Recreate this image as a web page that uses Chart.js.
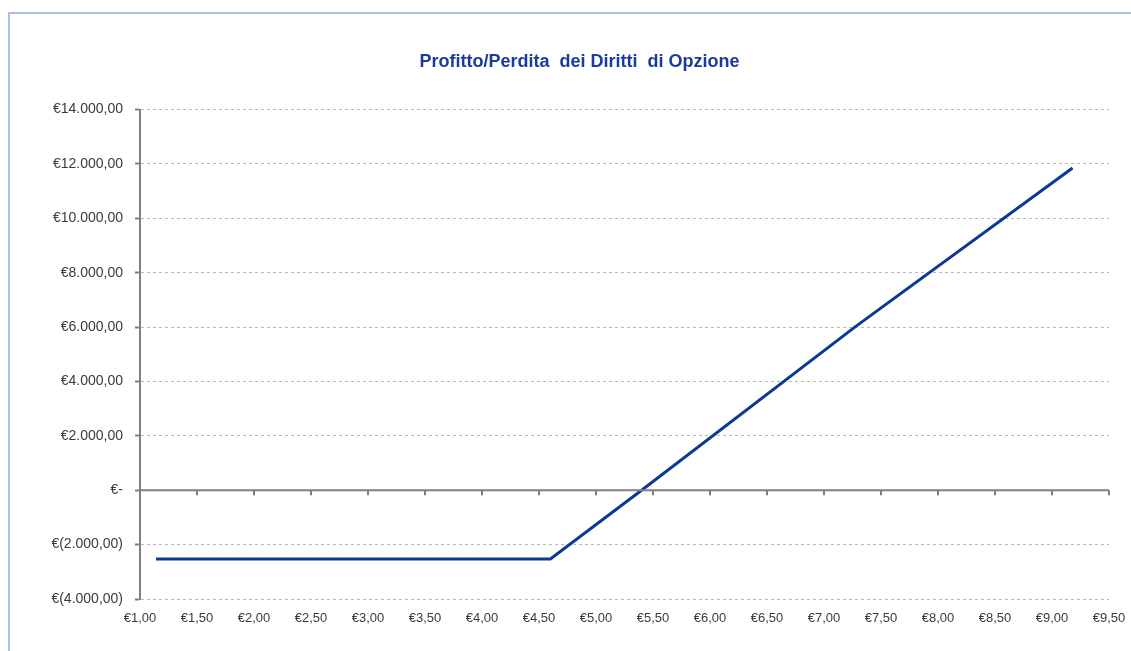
<!DOCTYPE html>
<html>
<head>
<meta charset="utf-8">
<script src="https://cdn.jsdelivr.net/npm/chart.js@4/dist/chart.umd.min.js"></script>
<style>
  html, body { margin:0; padding:0; background:#fff; }
  #wrap { position:relative; width:1131px; height:651px; overflow:hidden; }
  #frame { position:absolute; left:8px; top:12px; width:1200px; height:700px;
           border-left:2px solid #a9bde6; border-top:2px solid #a9bde6; }
  canvas { position:absolute; left:0; top:0; }
</style>
</head>
<body>
<div id="wrap">
  <div id="frame"></div>
  <canvas id="c" width="1131" height="651"></canvas>
</div>
<script>
// prezzo del diritto (x) e profitto/perdita (y)
const prices = [1.14, 4.60, 5.40, 7.27, 9.18];
const profit = [-2530, -2530, 0, 6000, 11850];

const TITLE = 'Profitto/Perdita  dei Diritti  di Opzione';
const X_MIN = 1, X_MAX = 9.5, X_STEP = 0.5;
const Y_MIN = -4000, Y_MAX = 14000, Y_STEP = 2000;

const LINE_COL = '#0b3a94';
const TEXT_COL = '#3a3a3a';
const AXIS_COL = '#808080';
const FONT = 'Liberation Sans, Arial, sans-serif';

function euroNum(v, dec){
  const parts = Math.abs(v).toFixed(dec).split('.');
  parts[0] = parts[0].replace(/\B(?=(\d{3})+(?!\d))/g, '.');
  return parts.join(',');
}
function yLabel(v){
  if (v === 0) return '€-';
  if (v < 0) return `€(${euroNum(v, 2)})`;
  return `€${euroNum(v, 2)}`;
}

// zero axis line + tick marks (Excel-style axis crossing at 0)
const zeroAxis = {
  id: 'zeroAxis',
  afterDatasetsDraw(chart){
    const { ctx, scales: { x, y } } = chart;
    const y0 = y.getPixelForValue(0);
    ctx.save();
    ctx.strokeStyle = AXIS_COL;
    ctx.lineWidth = 2;
    ctx.beginPath();
    ctx.moveTo(x.left, y0);
    ctx.lineTo(x.right, y0);
    ctx.stroke();
    for (let v = X_MIN + X_STEP; v <= X_MAX + 1e-9; v += X_STEP){
      const px = Math.round(x.getPixelForValue(v));
      ctx.beginPath();
      ctx.moveTo(px, y0);
      ctx.lineTo(px, y0 + 5);
      ctx.stroke();
    }
    ctx.restore();
  }
};

new Chart(document.getElementById('c'), {
  type: 'line',
  data: {
    datasets: [{
      data: prices.map((p, i) => ({ x: p, y: profit[i] })),
      borderColor: LINE_COL,
      borderWidth: 3,
      pointRadius: 0,
      tension: 0,
      fill: false
    }]
  },
  options: {
    responsive: false,
    animation: false,
    layout: { padding: { left: 50, right: 22, top: 0, bottom: 0 } },
    plugins: {
      legend: { display: false },
      tooltip: { enabled: false },
      title: {
        display: true,
        text: TITLE,
        color: '#1a3c9c',
        font: { family: FONT, size: 18, weight: 'bold' },
        padding: { top: 51, bottom: 37 }
      }
    },
    scales: {
      x: {
        type: 'linear',
        min: X_MIN, max: X_MAX,
        grid: { display: false },
        border: { display: false },
        ticks: {
          stepSize: X_STEP,
          color: TEXT_COL,
          padding: 4,
          maxRotation: 0,
          font: { family: FONT, size: 13 },
          callback: v => '€' + euroNum(v, 2)
        },
        afterFit(s){ s.height = 52; }
      },
      y: {
        min: Y_MIN, max: Y_MAX,
        grid: {
          color: '#b8b8b8',
          lineWidth: 1,
          tickColor: AXIS_COL,
          tickLength: 5,
          tickWidth: 2
        },
        border: { display: true, color: AXIS_COL, width: 2, dash: [3, 3] },
        ticks: {
          stepSize: Y_STEP,
          color: TEXT_COL,
          padding: 12,
          font: { family: FONT, size: 14 },
          callback: v => yLabel(v)
        },
        afterFit(s){ s.width = 90; }
      }
    }
  },
  plugins: [zeroAxis]
});
</script>
</body>
</html>
